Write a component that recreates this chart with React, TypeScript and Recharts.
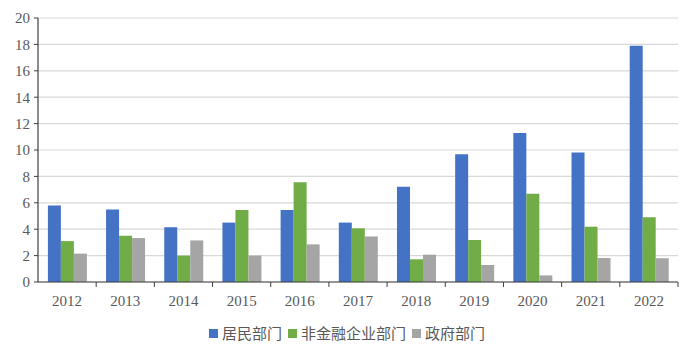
import React from 'react'
import {
  BarChart,
  Bar,
  XAxis,
  YAxis,
  CartesianGrid,
  Legend,
} from 'recharts'

// 数据（单位：万亿元，读自原图）
const years = ['2012', '2013', '2014', '2015', '2016', '2017', '2018', '2019', '2020', '2021', '2022']
const household = [5.8, 5.5, 4.15, 4.5, 5.45, 4.5, 7.22, 9.67, 11.29, 9.82, 17.9]
const nonFinancial = [3.1, 3.5, 2.0, 5.45, 7.55, 4.07, 1.72, 3.18, 6.69, 4.19, 4.9]
const government = [2.15, 3.33, 3.15, 2.0, 2.85, 3.45, 2.07, 1.29, 0.5, 1.82, 1.8]
const yTicks = [0, 2, 4, 6, 8, 10, 12, 14, 16, 18, 20]

const SERIES = [
  { key: 'household', name: '居民部门', color: '#4472C4' },
  { key: 'nonFinancial', name: '非金融企业部门', color: '#70AD47' },
  { key: 'government', name: '政府部门', color: '#A5A5A5' },
]

const data = years.map((year, i) => ({
  year,
  household: household[i],
  nonFinancial: nonFinancial[i],
  government: government[i],
}))

const WIDTH = 700
const HEIGHT = 356
const PLOT_LEFT = 38
const PLOT_RIGHT = 678
const PLOT_BOTTOM = 282
const BAND = (PLOT_RIGHT - PLOT_LEFT) / years.length
const AXIS_COLOR = '#404040'
const TEXT_COLOR = '#595959'
const SERIF = '"Liberation Serif", "DejaVu Serif", serif'

// Excel 风格：刻度线位于类别之间
const XTick = ({ x, payload }: any) => (
  <g>
    <line
      x1={x + BAND / 2}
      x2={x + BAND / 2}
      y1={PLOT_BOTTOM}
      y2={PLOT_BOTTOM + 5}
      stroke={AXIS_COLOR}
      strokeWidth={1}
    />
    <text
      x={x}
      y={PLOT_BOTTOM + 24}
      textAnchor="middle"
      fill={TEXT_COLOR}
      fontSize={15}
      fontFamily={SERIF}
    >
      {payload.value}
    </text>
  </g>
)

const CustomLegend = () => (
  <div
    style={{
      display: 'flex',
      justifyContent: 'center',
      gap: 6,
      fontFamily: '"Noto Sans CJK SC", sans-serif',
      fontSize: 15,
      lineHeight: '18px',
      color: TEXT_COLOR,
      paddingTop: 12,
      marginLeft: 16,
    }}
  >
    {SERIES.map((s) => (
      <div key={s.key} style={{ display: 'flex', alignItems: 'center', gap: 4 }}>
        <div style={{ width: 9, height: 9, backgroundColor: s.color }} />
        <span>{s.name}</span>
      </div>
    ))}
  </div>
)

export default function App() {
  return (
    <div style={{ width: WIDTH, height: HEIGHT, background: '#fff' }}>
      <style>{`body{margin:0}`}</style>
      <BarChart
        width={WIDTH}
        height={HEIGHT}
        data={data}
        margin={{ top: 18, right: WIDTH - PLOT_RIGHT, left: 0, bottom: 0 }}
        barCategoryGap="17%"
        barGap={0}
      >
        <CartesianGrid vertical={false} stroke="#D9D9D9" strokeWidth={1.2} />
        <XAxis
          dataKey="year"
          height={30}
          axisLine={{ stroke: AXIS_COLOR, strokeWidth: 1.2 }}
          tickLine={false}
          tick={<XTick />}
          interval={0}
        />
        <YAxis
          width={PLOT_LEFT}
          domain={[0, 20]}
          ticks={yTicks}
          interval={0}
          axisLine={{ stroke: AXIS_COLOR, strokeWidth: 1.2 }}
          tickLine={{ stroke: AXIS_COLOR }}
          tickSize={4}
          tickMargin={4}
          tick={{ fill: TEXT_COLOR, fontSize: 15, fontFamily: SERIF }}
        />
        <Legend verticalAlign="bottom" height={44} content={<CustomLegend />} />
        {SERIES.map((s) => (
          <Bar
            key={s.key}
            dataKey={s.key}
            name={s.name}
            fill={s.color}
            isAnimationActive={false}
          />
        ))}
      </BarChart>
    </div>
  )
}
